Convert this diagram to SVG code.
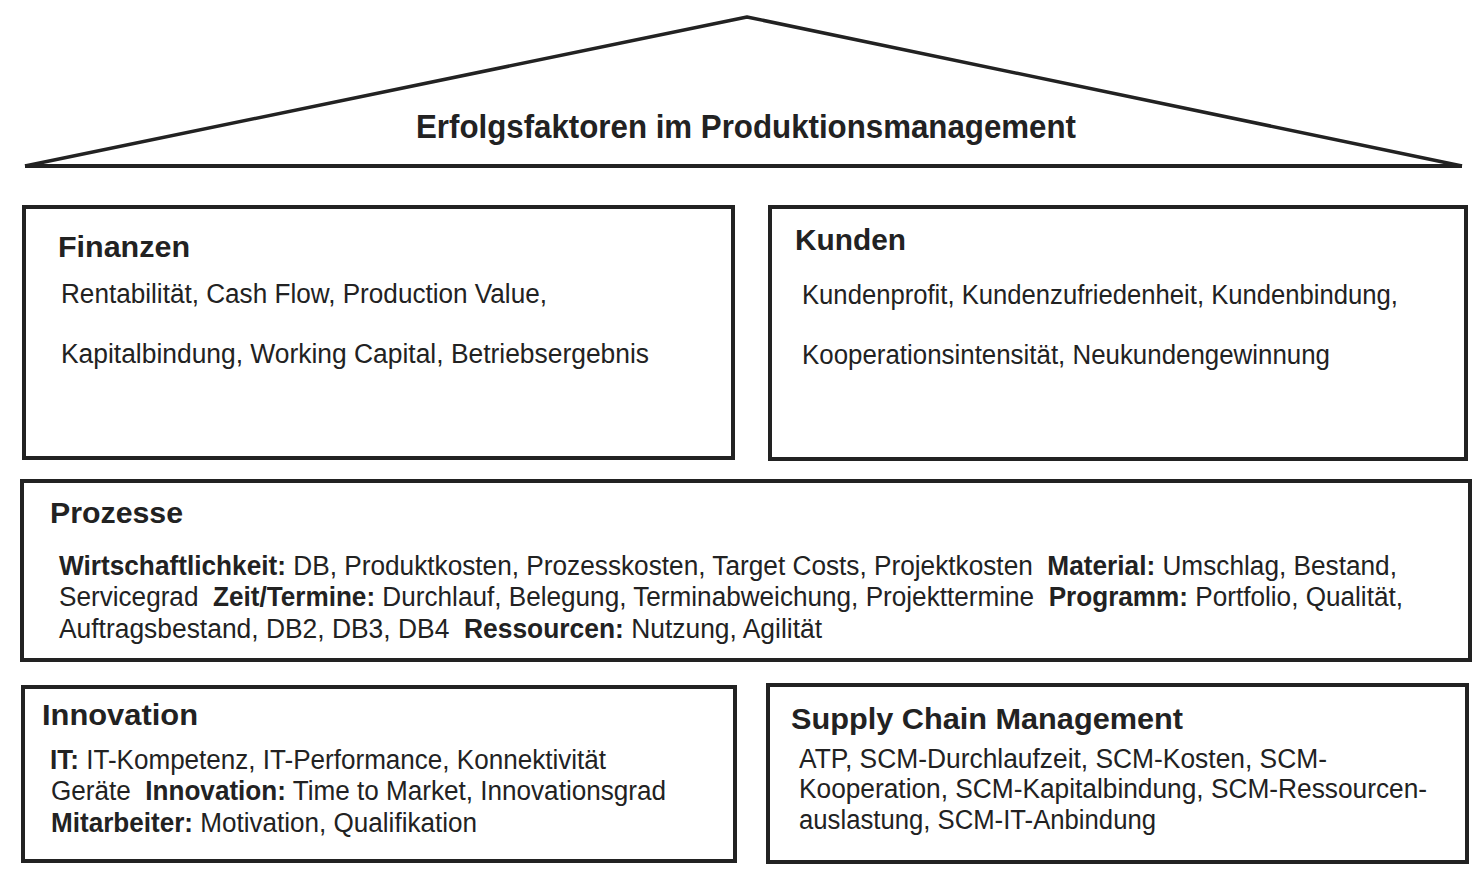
<svg xmlns="http://www.w3.org/2000/svg" width="1482" height="874" viewBox="0 0 1482 874">
<style>
.box{fill:#fff;stroke:#222;stroke-width:4}
.roof{fill:none;stroke:#222;stroke-width:3.5;stroke-linejoin:round}
text{font-family:"Liberation Sans",Arial,sans-serif;fill:#222;white-space:pre}
.h{font-weight:bold;font-size:29px}
.t{font-size:27px}
.b{font-weight:bold}
</style>
<rect width="1482" height="874" fill="#fff"/>
<g id="roof">
<polyline class="roof" points="25,166 747,17 1462,166"/>
<line x1="25" y1="166" x2="1462" y2="166" stroke="#222" stroke-width="4"/>
<text x="416" y="138" font-size="33" font-weight="bold" textLength="660" lengthAdjust="spacingAndGlyphs">Erfolgsfaktoren im Produktionsmanagement</text>
</g>
<g id="connectors"></g>
<g id="finanzen">
<rect class="box" x="24" y="207" width="709" height="251"/>
<text class="h" x="58" y="257" textLength="132" lengthAdjust="spacingAndGlyphs">Finanzen</text>
<text class="t" x="61" y="303" textLength="486" lengthAdjust="spacingAndGlyphs">Rentabilität, Cash Flow, Production Value,</text>
<text class="t" x="61" y="363" textLength="588" lengthAdjust="spacingAndGlyphs">Kapitalbindung, Working Capital, Betriebsergebnis</text>
</g>
<g id="kunden">
<rect class="box" x="770" y="207" width="696" height="252"/>
<text class="h" x="795" y="250" textLength="111" lengthAdjust="spacingAndGlyphs">Kunden</text>
<text class="t" x="802" y="304" textLength="596" lengthAdjust="spacingAndGlyphs">Kundenprofit, Kundenzufriedenheit, Kundenbindung,</text>
<text class="t" x="802" y="364" textLength="528" lengthAdjust="spacingAndGlyphs">Kooperationsintensität, Neukundengewinnung</text>
</g>
<g id="prozesse">
<rect class="box" x="22" y="481" width="1448" height="179"/>
<text class="h" x="50" y="523" textLength="133" lengthAdjust="spacingAndGlyphs">Prozesse</text>
<text class="t" x="59" y="575" xml:space="preserve" textLength="1338" lengthAdjust="spacingAndGlyphs"><tspan class="b">Wirtschaftlichkeit:</tspan> DB, Produktkosten, Prozesskosten, Target Costs, Projektkosten  <tspan class="b">Material:</tspan> Umschlag, Bestand,</text>
<text class="t" x="59" y="606" xml:space="preserve" textLength="1344" lengthAdjust="spacingAndGlyphs">Servicegrad  <tspan class="b">Zeit/Termine:</tspan> Durchlauf, Belegung, Terminabweichung, Projekttermine  <tspan class="b">Programm:</tspan> Portfolio, Qualität,</text>
<text class="t" x="59" y="638" xml:space="preserve" textLength="763" lengthAdjust="spacingAndGlyphs">Auftragsbestand, DB2, DB3, DB4  <tspan class="b">Ressourcen:</tspan> Nutzung, Agilität</text>
</g>
<g id="innovation">
<rect class="box" x="23" y="687" width="712" height="174"/>
<text class="h" x="42" y="725" textLength="156" lengthAdjust="spacingAndGlyphs">Innovation</text>
<text class="t" x="50" y="769" textLength="556" lengthAdjust="spacingAndGlyphs"><tspan class="b">IT:</tspan> IT-Kompetenz, IT-Performance, Konnektivität</text>
<text class="t" x="51" y="800" xml:space="preserve" textLength="615" lengthAdjust="spacingAndGlyphs">Geräte  <tspan class="b">Innovation:</tspan> Time to Market, Innovationsgrad</text>
<text class="t" x="51" y="832" textLength="426" lengthAdjust="spacingAndGlyphs"><tspan class="b">Mitarbeiter:</tspan> Motivation, Qualifikation</text>
</g>
<g id="scm">
<rect class="box" x="768" y="685" width="699" height="177"/>
<text class="h" x="791" y="729" textLength="392" lengthAdjust="spacingAndGlyphs">Supply Chain Management</text>
<text class="t" x="799" y="768" textLength="528" lengthAdjust="spacingAndGlyphs">ATP, SCM-Durchlaufzeit, SCM-Kosten, SCM-</text>
<text class="t" x="799" y="798" textLength="628" lengthAdjust="spacingAndGlyphs">Kooperation, SCM-Kapitalbindung, SCM-Ressourcen-</text>
<text class="t" x="799" y="829" textLength="357" lengthAdjust="spacingAndGlyphs">auslastung, SCM-IT-Anbindung</text>
</g>
</svg>
